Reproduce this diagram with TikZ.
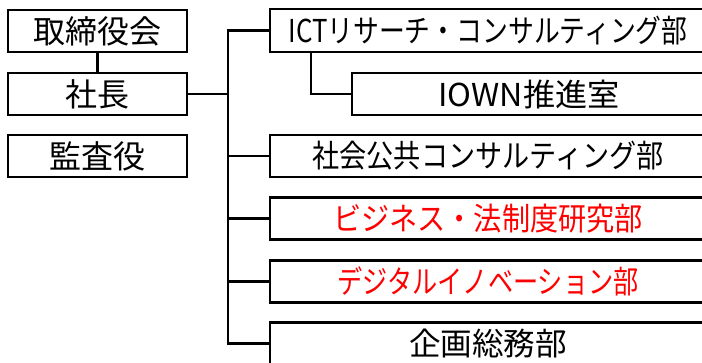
\documentclass[tikz,border=0pt]{standalone}
\usepackage{fontspec}
\usepackage{graphicx}
\newfontfamily\jp{Noto Sans CJK JP}
\definecolor{redtxt}{RGB}{255,0,0}
\tikzset{
 box/.style={draw=black, line width=2.3pt, rectangle, inner sep=0pt, outer sep=0pt},
 lbox/.style={box, minimum width=179pt, minimum height=42pt, font=\jp\fontsize{32}{36}\selectfont},
 rbox/.style={box, minimum width=436pt, minimum height=42pt, font=\jp\fontsize{31.5}{35}\selectfont},
 conn/.style={line width=2.2pt, draw=black},
 redt/.style={text=redtxt},
}
\newcommand{\fitw}[2]{\resizebox{#1}{\height}{#2}}
\begin{document}
\begin{tikzpicture}[x=1pt,y=-1pt]
\useasboundingbox (0,0) rectangle (702,362);
\clip (0,0) rectangle (702,362);
% left column
\node[lbox] (tori) at (97.5,31) {取締役会};
\node[lbox] (shacho) at (97.5,94) {社長};
\node[lbox] (kansa) at (97.5,156) {監査役};
% right column
\node[rbox, minimum height=43pt] (ict) at (488,30.5) {\fitw{399pt}{ICTリサーチ・コンサルティング部}};
\node[rbox, minimum width=354pt] (iown) at (529,94) {\fitw{181pt}{IOWN推進室}};
\node[rbox] (shakai) at (488,156) {\fitw{351pt}{社会公共コンサルティング部}};
\node[rbox, redt] (biz) at (488,218.5) {\fitw{310pt}{ビジネス・法制度研究部}};
\node[rbox, redt] (digi) at (488,281.5) {\fitw{301pt}{デジタルイノベーション部}};
\node[rbox] (kikaku) at (488,343.5) {\fitw{158pt}{企画総務部}};
% connectors
\coordinate (sp) at (228,0);
\draw[conn] (tori) -- (shacho);
\draw[conn] (shacho.east) -- (shacho.east -| sp);
\draw[conn] (ict.west) -- (ict.west -| sp) -- (kikaku.west -| sp) -- (kikaku.west);
\foreach \n in {shakai,biz,digi} \draw[conn] (\n.west) -- (\n.west -| sp);
\draw[conn] ([xshift=41pt]ict.south west) |- (iown.west);
\end{tikzpicture}
\end{document}
